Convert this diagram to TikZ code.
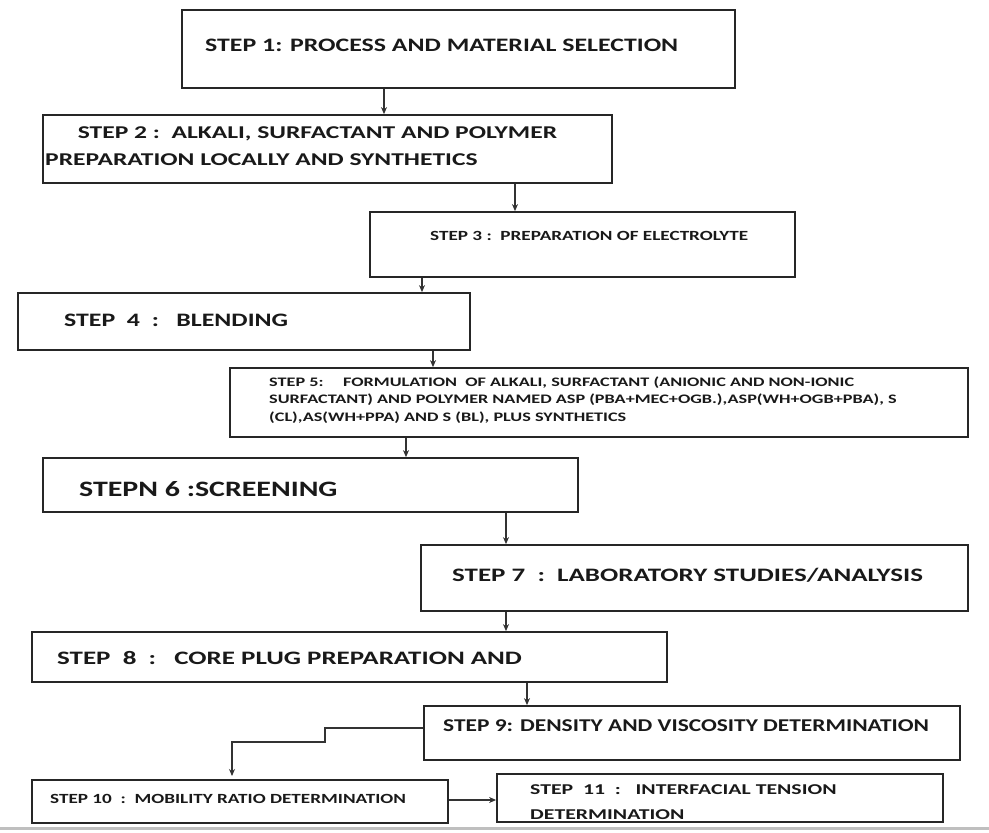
\documentclass[tikz,border=0pt]{standalone}
\usepackage{fontspec}
\usepackage{graphicx}
\setmainfont{Carlito}
\usetikzlibrary{arrows.meta,fit}
\tikzset{
  boxsty/.style={draw=black!85, line width=1.8pt, inner sep=0pt},
  lbl/.style={anchor=west, inner sep=0pt, text=black!90, font=\bfseries},
  arr/.style={draw=black!80, line width=1.1pt, -{Stealth[length=7pt,width=6pt]}},
}
% rectangle from two corners, named #1
\newcommand\mkbox[5]{%
  \coordinate (#1-a) at (#2,#3);
  \coordinate (#1-b) at (#4,#5);
  \node[boxsty, fit=(#1-a)(#1-b)] (#1) {};
}
% font size / baseline
\newcommand\fs[2]{\fontsize{#1}{#2}\selectfont}
% widened, left-aligned block of lines
\newcommand\wide[2]{\scalebox{#1}[1]{\begin{tabular}{@{}l@{}}#2\end{tabular}}}
\begin{document}
\begin{tikzpicture}[x=1pt,y=-1pt]
\useasboundingbox (0,0) rectangle (989,833);
\fill[white] (0,0) rectangle (989,833);

% process boxes
\mkbox{b1}{182}{10}{735}{88}
\mkbox{b2}{43}{115}{612}{183}
\mkbox{b3}{370}{212}{795}{277}
\mkbox{b4}{18}{293}{470}{350}
\mkbox{b5}{230}{368}{968}{437}
\mkbox{b6}{43}{458}{578}{512}
\mkbox{b7}{421}{545}{968}{611}
\mkbox{b8}{32}{632}{667}{682}
\mkbox{b9}{424}{706}{960}{760}
\mkbox{b10}{32}{780}{448}{823}
\mkbox{b11}{497}{774}{943}{822}

% labels
\node[lbl, font=\bfseries\fs{19}{23}] (t1) at (205,47) {\wide{1.36}{STEP 1: PROCESS AND MATERIAL SELECTION}};
\node[lbl, font=\bfseries\fs{18}{27}] (t2) at (45,147) {\wide{1.42}{\hspace*{23pt}STEP 2 :\ \ ALKALI, SURFACTANT AND POLYMER\\PREPARATION LOCALLY AND SYNTHETICS}};
\node[lbl, font=\bfseries\fs{14}{17}] (t3) at (430,237) {\wide{1.37}{STEP 3 :\ \ PREPARATION OF ELECTROLYTE}};
\node[lbl, font=\bfseries\fs{19}{23}] (t4) at (64,322) {\wide{1.36}{STEP\ \ 4\ \ :\ \ \ BLENDING}};
\node[lbl, font=\bfseries\fs{13}{17.5}] (t5) at (269,400) {\wide{1.4}{STEP 5:\hspace{14pt}FORMULATION\ \ OF ALKALI, SURFACTANT (ANIONIC AND NON-IONIC\\SURFACTANT) AND POLYMER NAMED ASP (PBA+MEC+OGB.),ASP(WH+OGB+PBA), S\\(CL),AS(WH+PPA) AND S (BL), PLUS SYNTHETICS}};
\node[lbl, font=\bfseries\fs{22}{26}] (t6) at (79,491) {\wide{1.36}{STEPN 6 :SCREENING}};
\node[lbl, font=\bfseries\fs{19}{23}] (t7) at (452,577) {\wide{1.42}{STEP 7\ \ :\ \ LABORATORY STUDIES/ANALYSIS}};
\node[lbl, font=\bfseries\fs{19}{23}] (t8) at (57,660) {\wide{1.42}{STEP\ \ 8\ \ :\ \ \ CORE PLUG PREPARATION AND}};
\node[lbl, font=\bfseries\fs{18}{22}] (t9) at (443,727) {\wide{1.3}{STEP 9: DENSITY AND VISCOSITY DETERMINATION}};
\node[lbl, font=\bfseries\fs{14}{18}] (t10) at (50,800) {\wide{1.37}{STEP 10\ \ :\ \ MOBILITY RATIO DETERMINATION}};
\node[lbl, font=\bfseries\fs{15}{25}] (t11) at (530,802) {\wide{1.45}{STEP\ \ 11\ \ :\ \ \ INTERFACIAL TENSION\\DETERMINATION}};

% connectors
\draw[arr] (384,0 |- b1.south) -- (384,0 |- b2.north);
\draw[arr] (515,0 |- b2.south) -- (515,0 |- b3.north);
\draw[arr] (422,0 |- b3.south) -- (422,0 |- b4.north);
\draw[arr] (433,0 |- b4.south) -- (433,0 |- b5.north);
\draw[arr] (406,0 |- b5.south) -- (406,0 |- b6.north);
\draw[arr] (506,0 |- b6.south) -- (506,0 |- b7.north);
\draw[arr] (506,0 |- b7.south) -- (506,0 |- b8.north);
\draw[arr] (527,0 |- b8.south) -- (527,0 |- b9.north);
\draw[arr] (b9.west |- 0,728) -- (325,728) -- (325,742) -- (232,742) -- (232,776);
\draw[arr] (b10.east |- 0,800) -- (b11.west |- 0,800);

% rule along the foot of the page
\draw[black!25, line width=3pt] (0,828) -- (989,828);
\end{tikzpicture}
\end{document}
